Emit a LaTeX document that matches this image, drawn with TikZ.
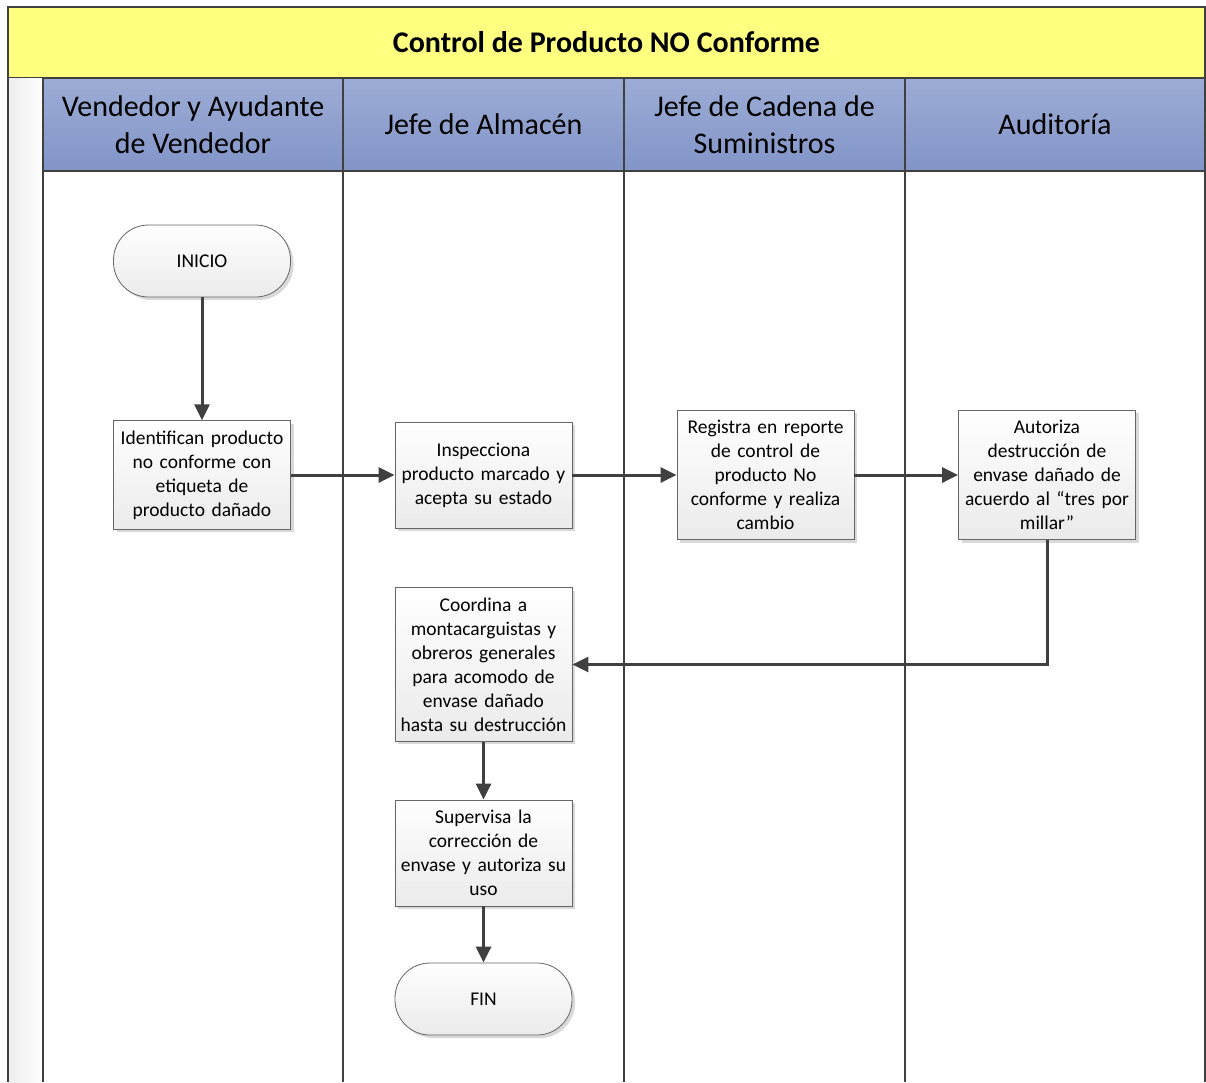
\documentclass[tikz,border=0pt]{standalone}
\usepackage{fontspec}
\setmainfont{Carlito}
\usetikzlibrary{positioning, arrows.meta, shadows}

\definecolor{titleyellow}{RGB}{255,255,128}
\definecolor{lanetop}{RGB}{157,172,214}
\definecolor{lanebot}{RGB}{130,149,199}
\definecolor{frameline}{RGB}{64,64,64}
\definecolor{flowline}{RGB}{64,64,64}

\begin{document}
\begin{tikzpicture}[
    x=1pt, y=-1pt,
    on grid,
    every node/.style={font=\fontsize{19.5}{24}\selectfont},
    task/.style={draw=black!60, thick, top color=white, bottom color=black!8,
        minimum width=177pt, minimum height=106pt, text width=172pt,
        inner xsep=2pt, inner ysep=10pt, align=center,
        drop shadow={shadow xshift=3pt, shadow yshift=-3pt, fill=black!15, opacity=1}},
    term/.style={task, rounded corners=35pt, minimum height=72pt},
    lanehead/.style={draw=frameline, line width=1.5pt, top color=lanetop, bottom color=lanebot,
        minimum height=93pt, align=center, font=\fontsize{30}{37}\selectfont},
    flow/.style={draw=flowline, line width=3pt, -{Triangle[length=16pt, width=15pt]}}
]
   \useasboundingbox (0,0) rectangle (1206,1082);

   % Title band and side strip
   \node[draw=frameline, line width=1.5pt, fill=titleyellow, minimum width=1197pt, minimum height=71pt,
         font=\fontsize{30}{34}\selectfont\bfseries] (title) at (606.5,42.5) {Control de Producto NO Conforme};
   \shade[left color=black!7, right color=white] (8,78) rectangle (43,1082);

   % Lane headers
   \node[lanehead, minimum width=300pt] (vend) at (193,124.5) {Vendedor y Ayudante\\de Vendedor};
   \node[lanehead, minimum width=281pt] (alm) at (483.5,124.5) {Jefe de Almacén};
   \node[lanehead, minimum width=281pt] (cad) at (764.5,124.5) {Jefe de Cadena de\\Suministros};
   \node[lanehead, minimum width=300pt] (aud) at (1055,124.5) {Auditoría};

   % Lane dividers
   \draw[frameline, line width=1.5pt] (8,7) -- (8,1082);
   \foreach \lx in {43, 343, 624, 905, 1205}
      \draw[frameline, line width=1.5pt] (\lx,171) -- (\lx,1082);

   % Steps
   \node[term] (ini) at (202,261) {INICIO};
   \node[task] (ident) [below=214pt of ini] {Identifican producto\\no conforme con\\etiqueta de\\producto dañado};
   \node[task] (insp) [right=281.5pt of ident] {Inspecciona\\producto marcado y\\acepta su estado};
   \node[task] (reg) [right=282pt of insp] {Registra en reporte\\de control de\\producto No\\conforme y realiza\\cambio};
   \node[task] (autz) [right=281.5pt of reg] {Autoriza\\destrucción de\\envase dañado de\\acuerdo al “tres por\\millar”};
   \node[task] (coord) [below=189.5pt of insp] {Coordina a\\montacarguistas y\\obreros generales\\para acomodo de\\envase dañado\\hasta su destrucción};
   \node[task] (sup) [below=188.5pt of coord] {Supervisa la\\corrección de\\envase y autoriza su\\uso};
   \node[term] (fin) [below=146pt of sup] {FIN};

   % Flow
   \draw[flow] (ini) -- (ident);
   \draw[flow] (ident) -- (insp);
   \draw[flow] (insp) -- (reg);
   \draw[flow] (reg) -- (autz);
   \draw[flow] (autz.south) |- (coord.east);
   \draw[flow] (coord) -- (sup);
   \draw[flow] (sup) -- (fin);
\end{tikzpicture}
\end{document}
